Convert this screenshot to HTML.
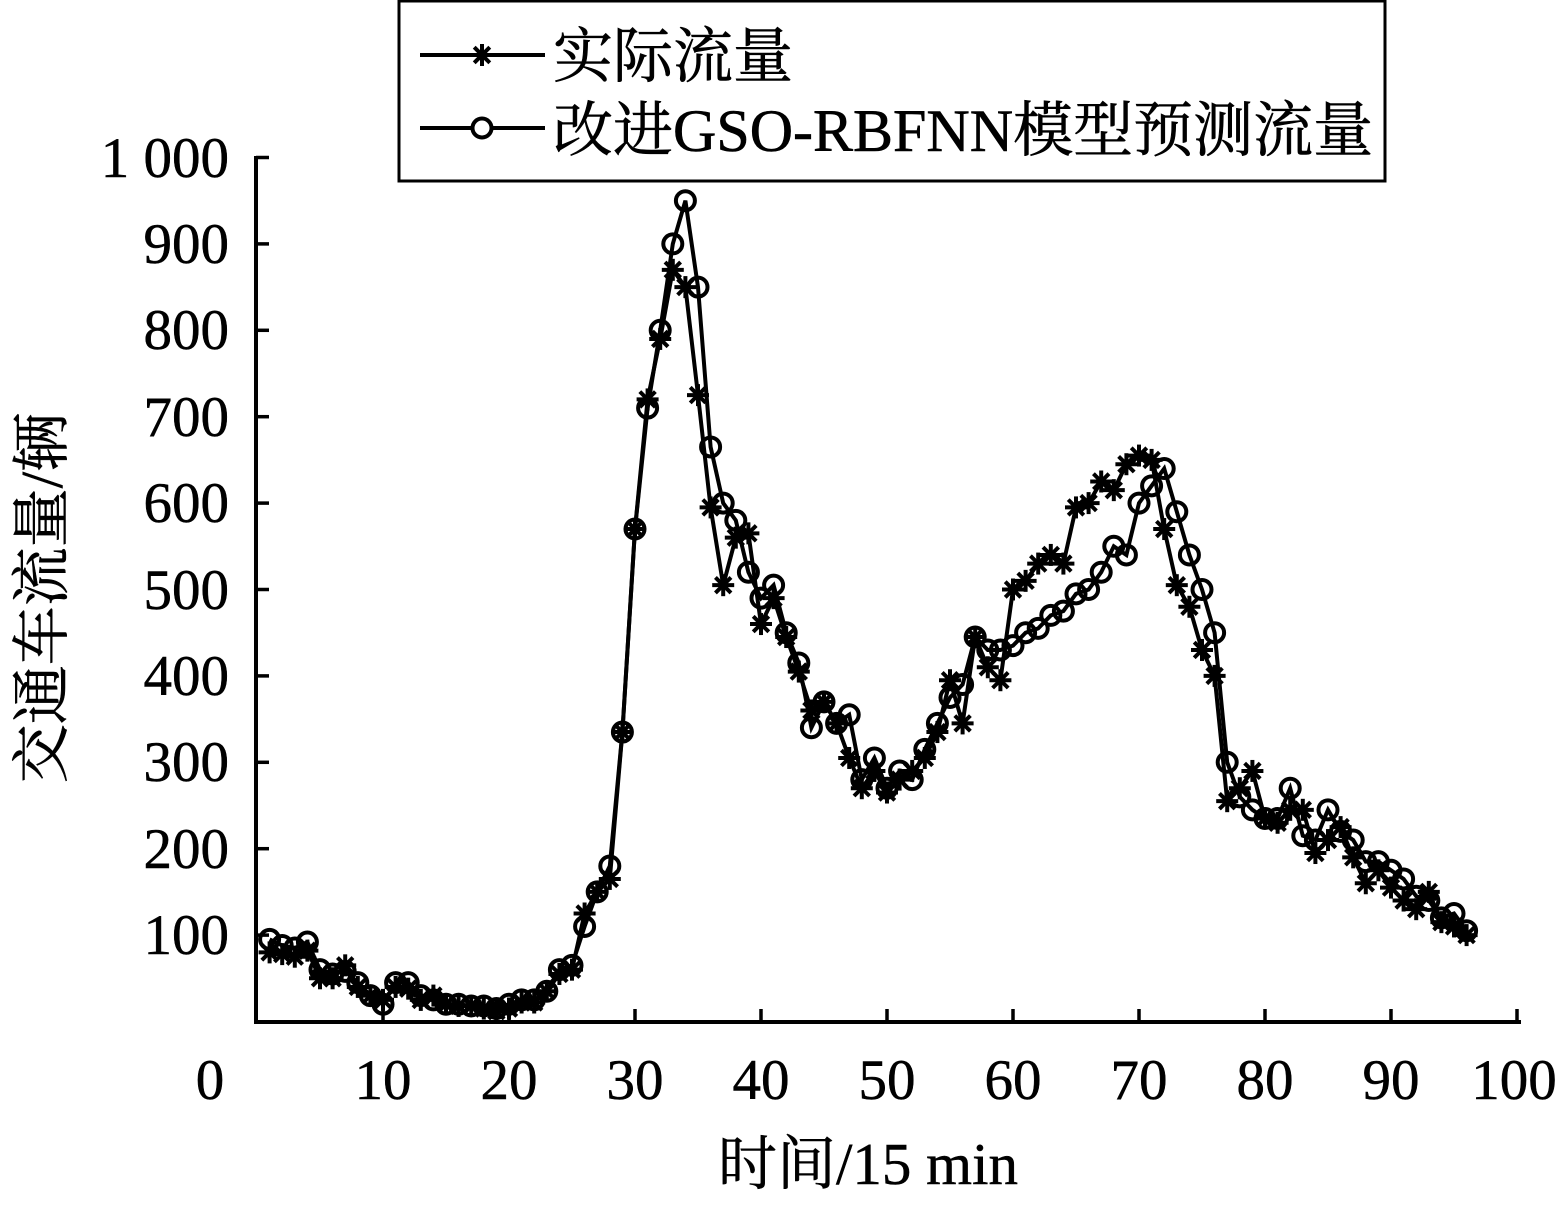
<!DOCTYPE html>
<html><head><meta charset="utf-8"><style>
body{margin:0;background:#fff}
svg text{font-family:"Liberation Serif","Noto Serif CJK SC",serif;fill:#000}
</style></head><body>
<svg id="s" width="1564" height="1203" viewBox="0 0 1564 1203" xmlns="http://www.w3.org/2000/svg">
<rect x="399" y="1" width="986" height="180" fill="#fff" stroke="#000" stroke-width="3"/>
<line x1="420" y1="55" x2="545" y2="55" stroke="#000" stroke-width="4"/>
<line x1="420" y1="128" x2="545" y2="128" stroke="#000" stroke-width="4"/>
<text x="553" y="77" font-size="60" stroke="#000" stroke-width="0.6">实际流量</text>
<text x="553" y="151" font-size="60" stroke="#000" stroke-width="0.6">改进GSO-RBFNN模型预测流量</text>
<g font-size="57" text-anchor="end" stroke="#000" stroke-width="0.5">
<text x="229" y="177">1 000</text><text x="229" y="263">900</text><text x="229" y="349">800</text>
<text x="229" y="436">700</text><text x="229" y="522">600</text><text x="229" y="609">500</text>
<text x="229" y="695">400</text><text x="229" y="781">300</text><text x="229" y="868">200</text>
<text x="229" y="954">100</text>
</g>
<g font-size="57" text-anchor="middle" stroke="#000" stroke-width="0.5">
<text x="210" y="1099">0</text><text x="383" y="1099">10</text><text x="509" y="1099">20</text>
<text x="635" y="1099">30</text><text x="761" y="1099">40</text><text x="887" y="1099">50</text>
<text x="1013" y="1099">60</text><text x="1139" y="1099">70</text><text x="1265" y="1099">80</text>
<text x="1391" y="1099">90</text><text x="1514" y="1099">100</text>
</g>
<text x="868" y="1184" font-size="59" text-anchor="middle" stroke="#000" stroke-width="0.5">时间/15 min</text>
<text transform="translate(62,598) rotate(-90)" font-size="59" text-anchor="middle" stroke="#000" stroke-width="0.5">交通车流量/辆</text>
<g id="ax" stroke="#000" stroke-width="4" fill="none">
<path d="M256 156 V1022 H1521"/>
</g>
<g id="plot"></g>
</svg>
<script>
var X0=257,XS=12.6,Y0=1021.5,YS=0.864;
var A=[80,78,75,82,50,50,65,40,30,25,40,38,25,30,20,18,18,15,12,15,22,22,35,55,60,125,150,165,335,570,720,790,870,850,725,595,505,560,565,460,490,445,405,360,370,345,305,270,290,265,280,290,305,335,395,345,445,410,395,500,510,530,540,530,595,600,625,615,645,655,650,570,505,480,430,400,255,270,290,235,230,245,245,195,210,225,190,160,175,155,140,130,150,115,110,100];
var P=[95,88,85,92,60,55,58,45,30,20,45,45,30,25,20,20,18,18,15,20,25,25,35,60,65,110,150,180,335,570,710,800,900,950,850,665,600,580,520,490,505,450,415,340,370,345,355,280,305,270,290,280,315,345,375,390,445,430,430,435,450,455,470,475,495,500,520,550,540,600,620,640,590,540,500,450,300,260,245,235,235,270,215,210,245,220,210,185,185,175,165,145,140,120,125,105];
var g=document.getElementById('plot'),h='';
for(var i=1;i<=10;i++){var x=X0+i*10*XS;h+='<line x1="'+x+'" y1="1022" x2="'+x+'" y2="1009" stroke="#000" stroke-width="3.5"/>';}
for(var i=1;i<=10;i++){var y=Y0-i*100*YS;h+='<line x1="256" y1="'+y+'" x2="269" y2="'+y+'" stroke="#000" stroke-width="3.5"/>';}
function pts(d){return d.map(function(v,i){return [X0+(i+1)*XS,Y0-v*YS];});}
var a=pts(A),p=pts(P);
h+='<polyline fill="none" stroke="#000" stroke-width="4" points="'+a.map(function(q){return q.join(',')}).join(' ')+'"/>';
h+='<polyline fill="none" stroke="#000" stroke-width="4" points="'+p.map(function(q){return q.join(',')}).join(' ')+'"/>';
p.forEach(function(q){h+='<circle cx="'+q[0]+'" cy="'+q[1]+'" r="9.5" fill="none" stroke="#000" stroke-width="4"/>';});
function star(x,y,r){var s='';for(var k=0;k<4;k++){var t=k*Math.PI/4;var dx=r*Math.cos(t),dy=r*Math.sin(t);s+='<line x1="'+(x-dx)+'" y1="'+(y-dy)+'" x2="'+(x+dx)+'" y2="'+(y+dy)+'" stroke="#000" stroke-width="4"/>';}return s;}
a.forEach(function(q){h+=star(q[0],q[1],11);});
h+=star(482,55,11)+'<circle cx="482" cy="128" r="9.5" fill="#fff" stroke="#000" stroke-width="4"/>';
g.innerHTML=h;
</script>
</body></html>
